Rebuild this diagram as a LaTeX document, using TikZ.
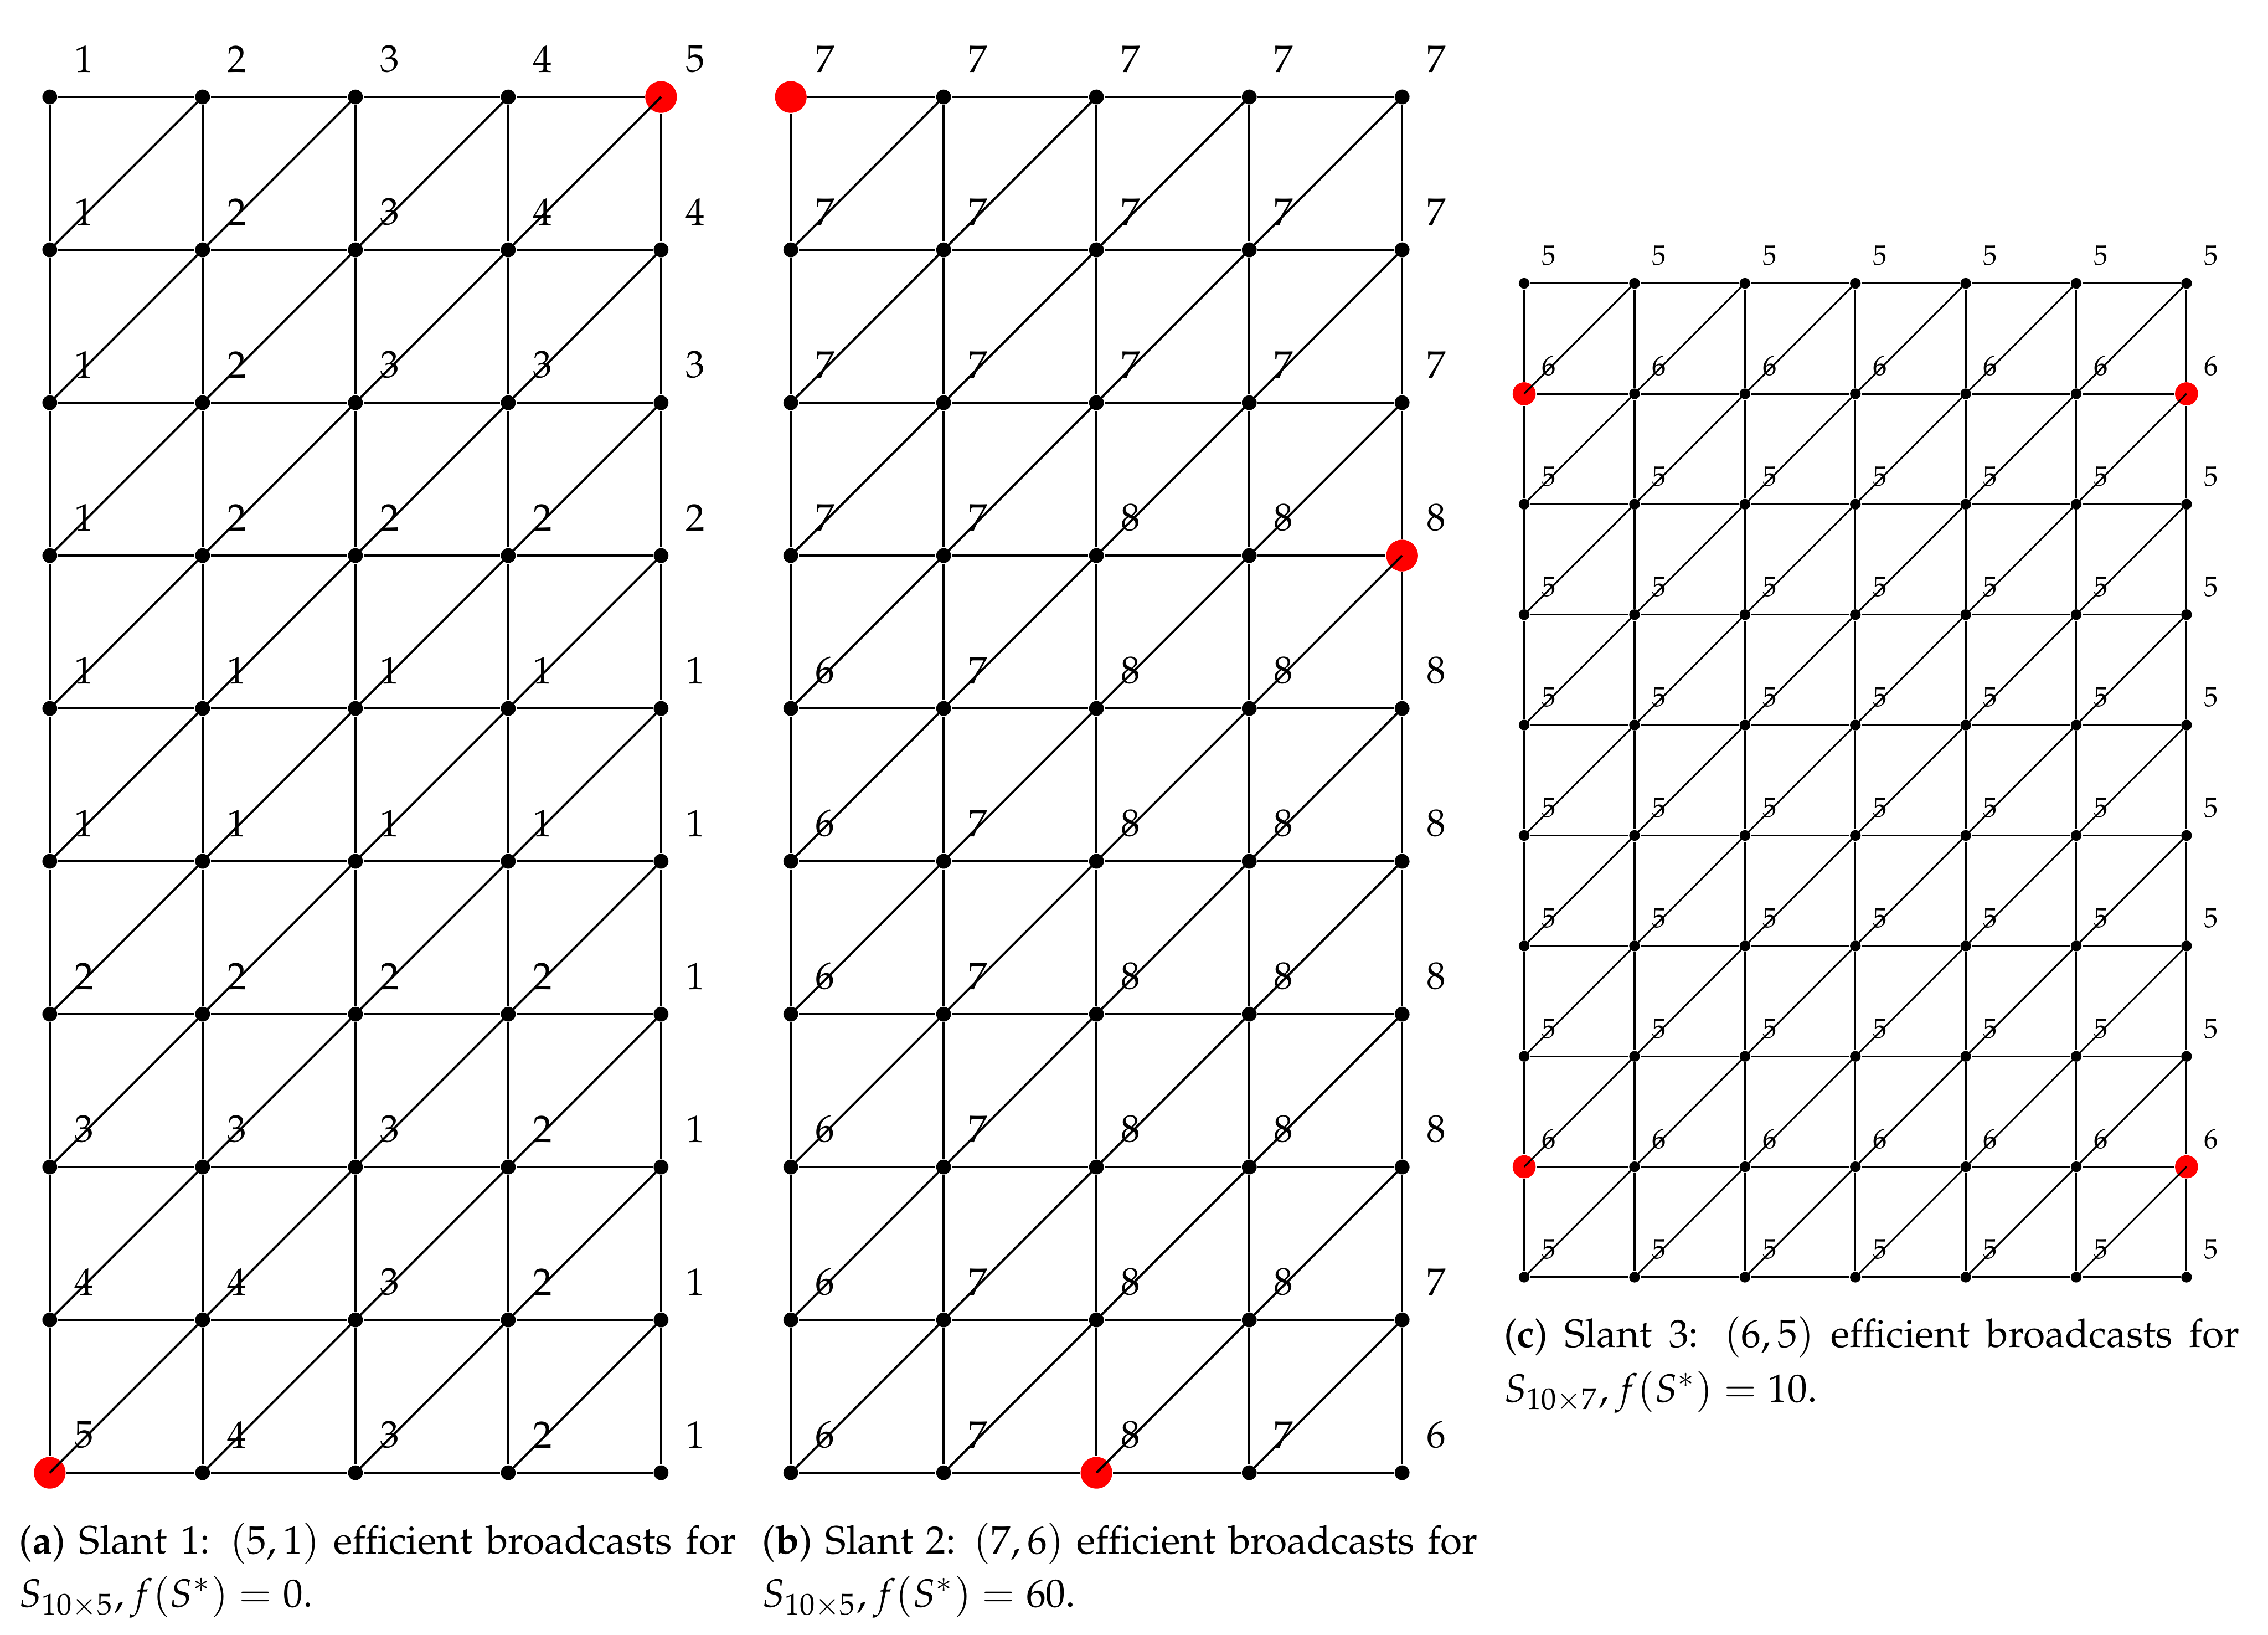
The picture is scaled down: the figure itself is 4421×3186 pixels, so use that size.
\documentclass[tikz,border=0pt]{standalone}
\usepackage[T1]{fontenc}
\usepackage{mathpazo}
\usetikzlibrary{calc}
\tikzset{
  dotA/.style={circle,fill=black,draw=none,inner sep=0pt,minimum size=3.6pt},
  redA/.style={fill=red,minimum size=7.7pt},
  dotC/.style={circle,fill=black,draw=none,inner sep=0pt,minimum size=2.6pt},
  redC/.style={fill=red,minimum size=5.6pt},
  edgeA/.style={line width=0.55pt},
  edgeC/.style={line width=0.42pt},
  labA/.style={font=\fontsize{9.3}{11}\selectfont,inner sep=0pt},
  labC/.style={font=\fontsize{6.8}{8}\selectfont,inner sep=0pt},
  captxt/.style={font=\fontsize{9.6}{12}\selectfont,inner sep=0pt,anchor=base west},
  sa-0-4/.style={redA}, sa-9-0/.style={redA},
  sb-0-0/.style={redA}, sb-3-4/.style={redA}, sb-9-2/.style={redA},
  sc-1-0/.style={redC}, sc-1-6/.style={redC}, sc-8-0/.style={redC}, sc-8-6/.style={redC},
}
\begin{document}
\begin{tikzpicture}[x=0.0043764cm,y=-0.0043764cm]
\useasboundingbox (0,0) rectangle (4421,3186);
% ---------- panel (a) ----------
\foreach \r in {0,...,9}{\foreach \c in {0,...,4}{
  \node[dotA,sa-\r-\c/.try] (a-\r-\c) at ({97+297.9*\c},{189+297.9*\r}) {};}}
\foreach \r in {0,...,9}{\foreach \c [evaluate=\c as \cn using int(\c+1)] in {0,...,3}{
  \draw[edgeA] (a-\r-\c) -- (a-\r-\cn);}}
\foreach \r [evaluate=\r as \rn using int(\r+1)] in {0,...,8}{\foreach \c in {0,...,4}{
  \draw[edgeA] (a-\r-\c) -- (a-\rn-\c);}}
\foreach \r [evaluate=\r as \rp using int(\r-1)] in {1,...,9}{\foreach \c [evaluate=\c as \cn using int(\c+1)] in {0,...,3}{
  \draw[edgeA] (a-\r-\c.center) -- (a-\rp-\cn.center);}}
\foreach \r/\vals in {0/{1,2,3,4,5},1/{1,2,3,4,4},2/{1,2,3,3,3},3/{1,2,2,2,2},4/{1,1,1,1,1},
  5/{1,1,1,1,1},6/{2,2,2,2,1},7/{3,3,3,2,1},8/{4,4,3,2,1},9/{5,4,3,2,1}}{
  \foreach \v [count=\c from 0] in \vals {
    \node[labA] (la-\r-\c) at ({164+297.9*\c},{115+297.9*\r}) {\v};}}
% ---------- panel (b) ----------
\foreach \r in {0,...,9}{\foreach \c in {0,...,4}{
  \node[dotA,sb-\r-\c/.try] (b-\r-\c) at ({1541.5+297.9*\c},{189+297.9*\r}) {};}}
\foreach \r in {0,...,9}{\foreach \c [evaluate=\c as \cn using int(\c+1)] in {0,...,3}{
  \draw[edgeA] (b-\r-\c) -- (b-\r-\cn);}}
\foreach \r [evaluate=\r as \rn using int(\r+1)] in {0,...,8}{\foreach \c in {0,...,4}{
  \draw[edgeA] (b-\r-\c) -- (b-\rn-\c);}}
\foreach \r [evaluate=\r as \rp using int(\r-1)] in {1,...,9}{\foreach \c [evaluate=\c as \cn using int(\c+1)] in {0,...,3}{
  \draw[edgeA] (b-\r-\c.center) -- (b-\rp-\cn.center);}}
\foreach \r/\vals in {0/{7,7,7,7,7},1/{7,7,7,7,7},2/{7,7,7,7,7},3/{7,7,8,8,8},4/{6,7,8,8,8},
  5/{6,7,8,8,8},6/{6,7,8,8,8},7/{6,7,8,8,8},8/{6,7,8,8,7},9/{6,7,8,7,6}}{
  \foreach \v [count=\c from 0] in \vals {
    \node[labA] (lb-\r-\c) at ({1608.5+297.9*\c},{115+297.9*\r}) {\v};}}
% ---------- panel (c) ----------
\foreach \r in {0,...,9}{\foreach \c in {0,...,6}{
  \node[dotC,sc-\r-\c/.try] (c-\r-\c) at ({2971+215.2*\c},{552.2+215.2*\r}) {};}}
\foreach \r in {0,...,9}{\foreach \c [evaluate=\c as \cn using int(\c+1)] in {0,...,5}{
  \draw[edgeC] (c-\r-\c) -- (c-\r-\cn);}}
\foreach \r [evaluate=\r as \rn using int(\r+1)] in {0,...,8}{\foreach \c in {0,...,6}{
  \draw[edgeC] (c-\r-\c) -- (c-\rn-\c);}}
\foreach \r [evaluate=\r as \rp using int(\r-1)] in {1,...,9}{\foreach \c [evaluate=\c as \cn using int(\c+1)] in {0,...,5}{
  \draw[edgeC] (c-\r-\c.center) -- (c-\rp-\cn.center);}}
\foreach \r/\vals in {0/{5,5,5,5,5,5,5},1/{6,6,6,6,6,6,6},2/{5,5,5,5,5,5,5},3/{5,5,5,5,5,5,5},
  4/{5,5,5,5,5,5,5},5/{5,5,5,5,5,5,5},6/{5,5,5,5,5,5,5},7/{5,5,5,5,5,5,5},8/{6,6,6,6,6,6,6},9/{5,5,5,5,5,5,5}}{
  \foreach \v [count=\c from 0] in \vals {
    \node[labC] (lc-\r-\c) at ({3019+215.2*\c},{498+215.2*\r}) {\v};}}
% ---------- captions ----------
\node[captxt] (capa1) at (36,3028) {\hbox to 6.12cm{(\textbf{a}) Slant 1: $(5,1)$ efficient broadcasts for}};
\node[captxt] (capa2) at (36,3132) {$S_{10\times 5}, f(S^*)=0$.};
\node[captxt] (capb1) at (1484,3028) {\hbox to 6.11cm{(\textbf{b}) Slant 2: $(7,6)$ efficient broadcasts for}};
\node[captxt] (capb2) at (1484,3132) {$S_{10\times 5}, f(S^*)=60$.};
\node[captxt] (capc1) at (2930,2625) {\hbox to 6.28cm{(\textbf{c}) Slant 3: $(6,5)$ efficient broadcasts for}};
\node[captxt] (capc2) at (2930,2732) {$S_{10\times 7}, f(S^*)=10$.};
\end{tikzpicture}
\end{document}
